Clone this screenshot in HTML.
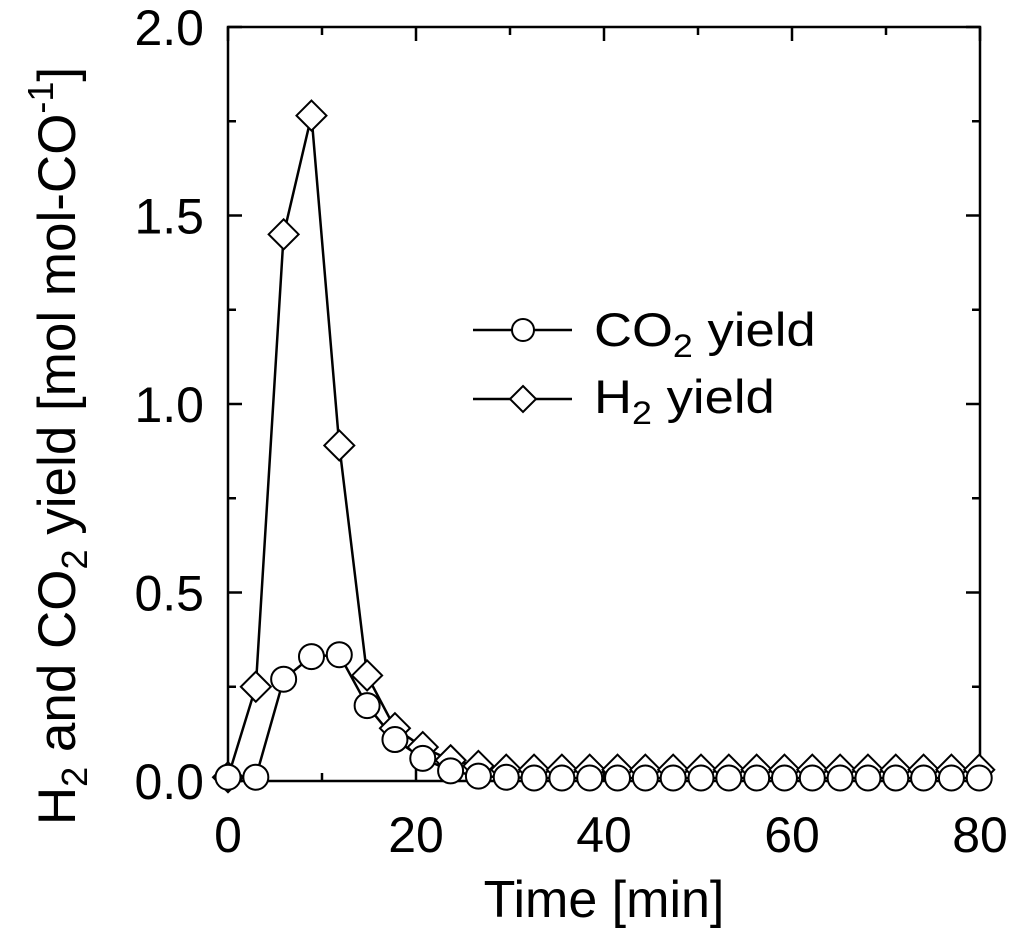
<!DOCTYPE html>
<html><head><meta charset="utf-8"><style>
html,body{margin:0;padding:0;background:#fff}
svg text{font-family:"Liberation Sans",Arial,sans-serif;fill:#000}
</style></head><body>
<svg id="chart" width="1024" height="939" viewBox="0 0 1024 939" xmlns="http://www.w3.org/2000/svg">
<g id="axes"></g>
<g id="series"></g>
<g>
 <line x1="473" y1="330" x2="572" y2="330" stroke="#000" stroke-width="2.5"/>
 <circle cx="523" cy="330" r="11" fill="#fff" stroke="#000" stroke-width="2"/>
 <text transform="translate(594,346) scale(1.12,1)" font-size="47">CO<tspan font-size="32" dy="11">2</tspan><tspan dy="-11"> yield</tspan></text>
 <line x1="473" y1="399" x2="572" y2="399" stroke="#000" stroke-width="2.5"/>
 <path d="M523 386 L536 399 L523 412 L510 399 Z" fill="#fff" stroke="#000" stroke-width="2"/>
 <text transform="translate(594,413) scale(1.12,1)" font-size="47">H<tspan font-size="32" dy="11">2</tspan><tspan dy="-11"> yield</tspan></text>
</g>
<text x="604" y="917" font-size="52" text-anchor="middle">Time [min]</text>
<text transform="translate(75,446) rotate(-90)" font-size="53" text-anchor="middle">H<tspan font-size="36" dy="12">2</tspan><tspan dy="-12"> and CO</tspan><tspan font-size="36" dy="12">2</tspan><tspan dy="-12">  yield [mol mol-CO</tspan><tspan font-size="36" dy="-22">-1</tspan><tspan dy="22">]</tspan></text>
</svg>
<script>
const times = [0,2.96,5.92,8.88,11.84,14.8,17.76,20.72,23.68,26.64,29.6,32.56,35.52,38.48,41.44,44.4,47.36,50.32,53.28,56.24,59.2,62.16,65.12,68.08,71.04,74,76.96,79.92];
const co2Yield = [0.01,0.01,0.27,0.33,0.335,0.2,0.11,0.06,0.027,0.013,0.01,0.008,0.008,0.008,0.008,0.008,0.008,0.008,0.008,0.008,0.008,0.008,0.008,0.008,0.008,0.008,0.008,0.008];
const h2Yield = [0.01,0.25,1.45,1.765,0.89,0.28,0.14,0.09,0.055,0.04,0.03,0.03,0.03,0.03,0.03,0.03,0.03,0.03,0.03,0.03,0.03,0.03,0.03,0.03,0.03,0.03,0.03,0.03];
const xTicks = [0,20,40,60,80];
const yTicks = [0,0.5,1.0,1.5,2.0];
const yTickLabels = ["0.0","0.5","1.0","1.5","2.0"];

const L=228,R=980,T=27,B=781;
const X0=0,X1=80,Y0=0,Y1=2.0;
const xs=v=>L+(v-X0)/(X1-X0)*(R-L);
const ys=v=>B-(v-Y0)/(Y1-Y0)*(B-T);
const NS="http://www.w3.org/2000/svg";
function mk(tag,attrs,parent){const e=document.createElementNS(NS,tag);for(const k in attrs)e.setAttribute(k,attrs[k]);parent.appendChild(e);return e;}
const ax=document.getElementById('axes');
const frame=mk('rect',{x:L,y:T,width:R-L,height:B-T,fill:'none',stroke:'#000','stroke-width':2.5},ax);


for(let v=0;v<=80;v+=10){
 const x=xs(v),len=(v%20===0)?14:8;
 const t1=mk('line',{x1:x,y1:B,x2:x,y2:B-len,stroke:'#000','stroke-width':2.5},ax);
 
 
 const t2=mk('line',{x1:x,y1:T,x2:x,y2:T+len,stroke:'#000','stroke-width':2.5},ax);
 
 
}
for(let v=0;v<=2.0001;v+=0.25){
 const y=ys(v),len=(Math.round(v*4)%2===0)?14:8;
 const t1=mk('line',{x1:L,y1:y,x2:L+len,y2:y,stroke:'#000','stroke-width':2.5},ax);
 
 
 const t2=mk('line',{x1:R,y1:y,x2:R-len,y2:y,stroke:'#000','stroke-width':2.5},ax);
 
 
}
xTicks.forEach(v=>{
 const t=mk('text',{x:xs(v),y:852,'font-size':50,'text-anchor':'middle'},ax);
 t.textContent=String(v);
 
 
});
yTicks.forEach((v,i)=>{
 const t=mk('text',{x:204,y:ys(v)+18,'font-size':50,'text-anchor':'end'},ax);
 t.textContent=yTickLabels[i];
 
 
});
const sg=document.getElementById('series');
function line(vals,name){
 const p=mk('polyline',{points:vals.map((v,i)=>xs(times[i])+','+ys(v)).join(' '),fill:'none',stroke:'#000','stroke-width':2.5},sg);
 
 
}
line(h2Yield,'h2-yield-line');
line(co2Yield,'co2-yield-line');
h2Yield.forEach((v,i)=>{
 const x=xs(times[i]),y=ys(v),s=15;
 const d=mk('path',{d:`M${x} ${y-s} L${x+s} ${y} L${x} ${y+s} L${x-s} ${y} Z`,fill:'#fff',stroke:'#000','stroke-width':2},sg);
 
 
});
co2Yield.forEach((v,i)=>{
 const c=mk('circle',{cx:xs(times[i]),cy:ys(v),r:12.5,fill:'#fff',stroke:'#000','stroke-width':2},sg);
 
 
});
</script>
</body></html>
